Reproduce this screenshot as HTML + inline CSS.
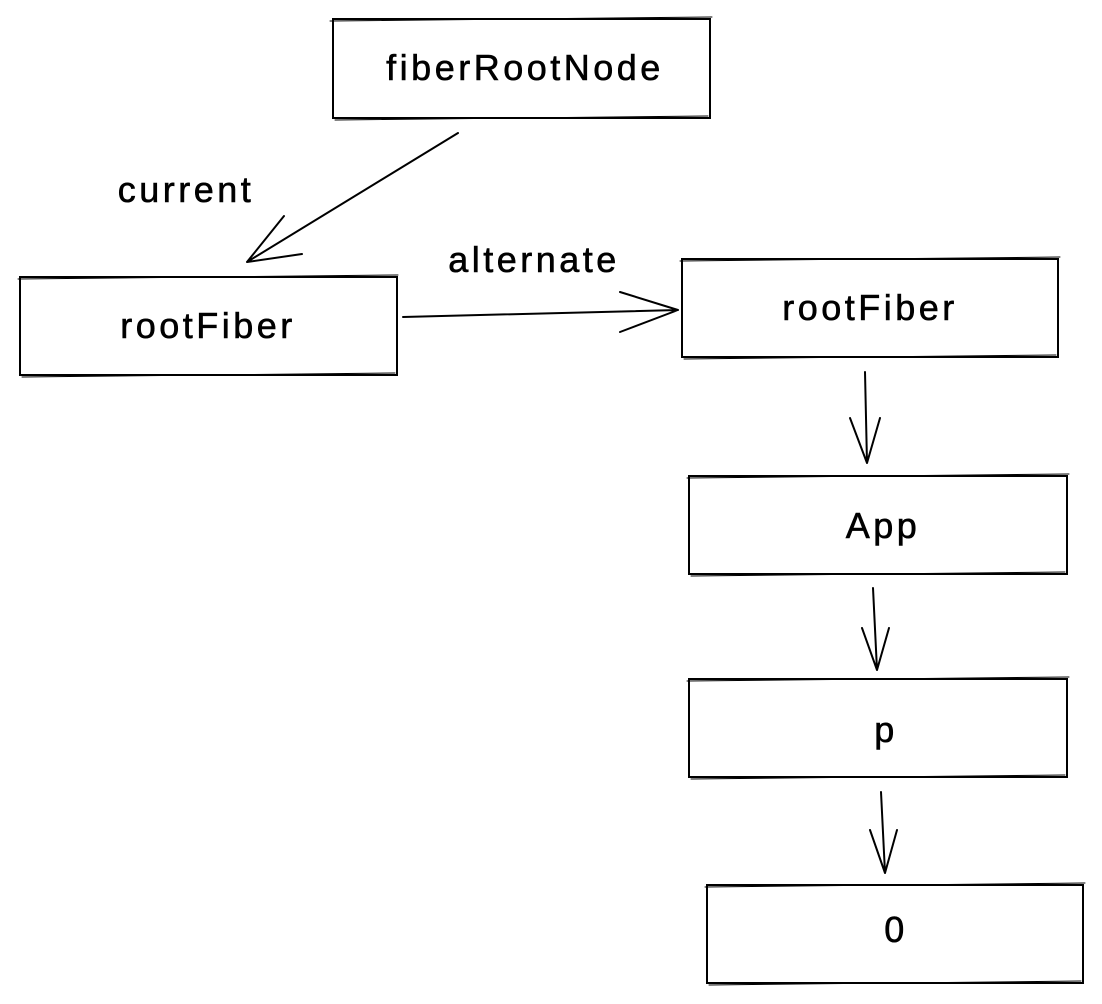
<!DOCTYPE html>
<html><head><meta charset="utf-8"><style>
html,body{margin:0;padding:0;background:#fff;}
svg{display:block;}
text{font-family:"Liberation Sans",sans-serif;font-size:36px;letter-spacing:3.5px;fill:#000;stroke:#000;stroke-width:0.6;}
</style></head><body>
<svg width="1102" height="1004" viewBox="0 0 1102 1004" xmlns="http://www.w3.org/2000/svg">
<g fill="none" stroke="#000" stroke-width="2" stroke-linecap="round">
<rect x="333" y="19" width="377" height="99"/>
<path d="M330 21 L712 17 M335 120 L708 116" stroke-width="1"/>
<rect x="20" y="277" width="377" height="98"/>
<path d="M18 279 L398 275 M22 377 L395 373" stroke-width="1"/>
<rect x="682" y="259" width="376" height="98"/>
<path d="M680 261 L1060 257 M684 359 L1056 355" stroke-width="1"/>
<rect x="689" y="476" width="378" height="98"/>
<path d="M687 478 L1069 474 M691 576 L1065 572" stroke-width="1"/>
<rect x="689" y="679" width="378" height="98"/>
<path d="M687 681 L1069 677 M691 779 L1065 775" stroke-width="1"/>
<rect x="707" y="885" width="376" height="98"/>
<path d="M705 887 L1085 883 M709 985 L1081 981" stroke-width="1"/>
<path d="M458 133 L247 262 M247 262 L284 216 M247 262 L302 254"/>
<path d="M403 317 L678 310 M678 310 L620 292 M678 310 L620 332"/>
<path d="M865 372 L867 463 M867 463 L850 418 M867 463 L880 418"/>
<path d="M873 588 L877 670 M877 670 L862 628 M877 670 L889 628"/>
<path d="M881 792 L885 873 M885 873 L870 830 M885 873 L897 830"/>
</g>
<text x="525" y="80" text-anchor="middle">fiberRootNode</text>
<text x="208" y="338" text-anchor="middle">rootFiber</text>
<text x="870" y="320" text-anchor="middle">rootFiber</text>
<text x="883" y="538" text-anchor="middle">App</text>
<text x="886" y="742" text-anchor="middle">p</text>
<text x="896" y="942" text-anchor="middle">0</text>
<text x="186" y="202" text-anchor="middle">current</text>
<text x="534" y="272" text-anchor="middle">alternate</text>
</svg>
</body></html>
